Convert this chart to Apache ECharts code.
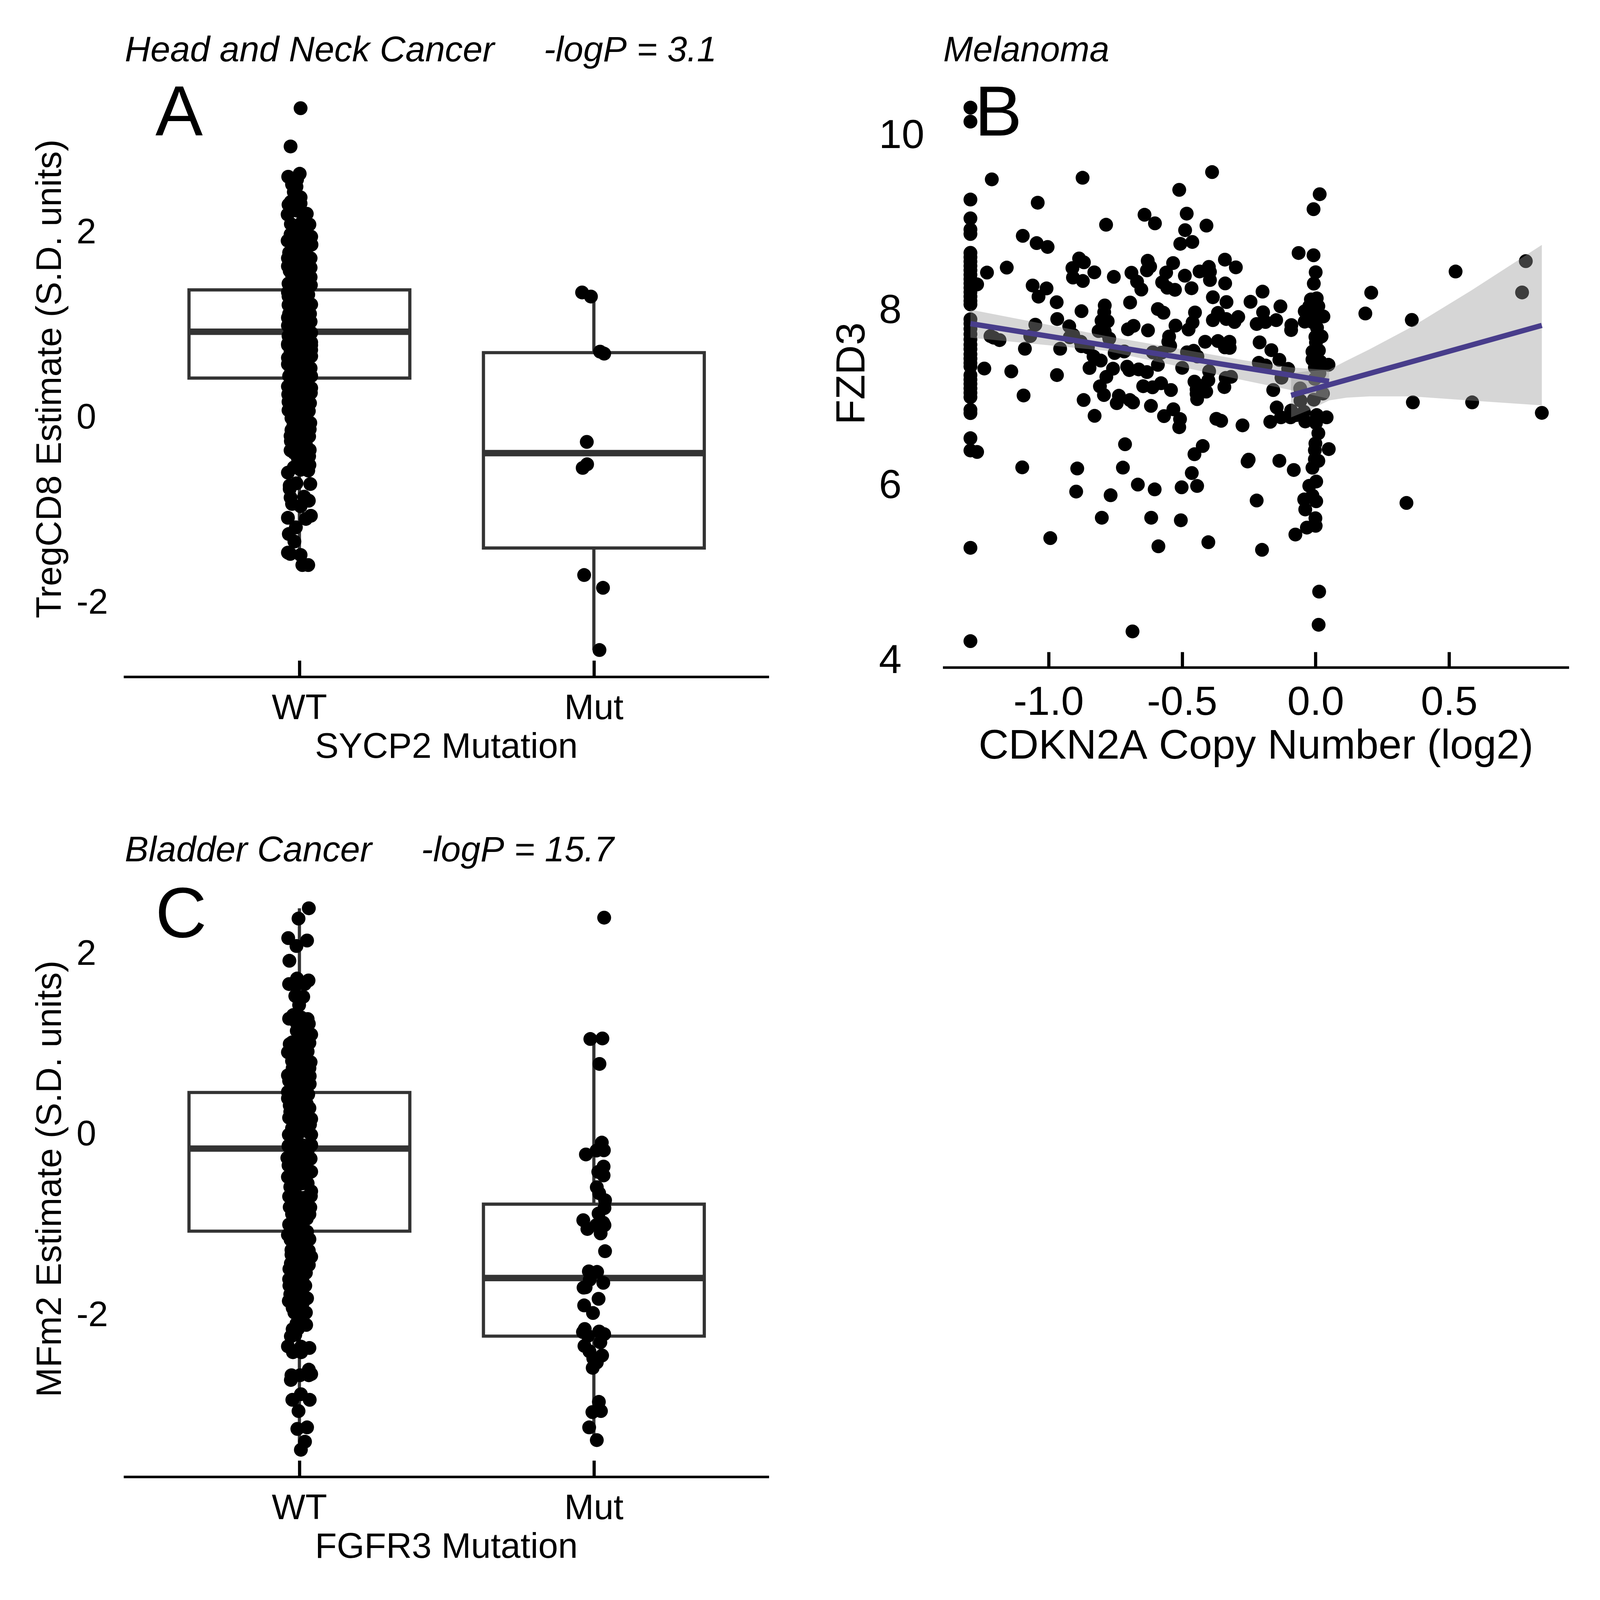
<!DOCTYPE html>
<html><head><meta charset="utf-8">
<style>html,body{margin:0;padding:0;background:#fff;overflow:hidden}#c{width:100vw;height:100vh}</style>
<script src="https://cdn.jsdelivr.net/npm/echarts@6/dist/echarts.min.js"></script>
</head><body><div id="c"></div>
<script>
const groupTicks = [1, 2];
const groupLabels = ['WT', 'Mut'];
const yTicksA = [-2, 0, 2];
const yTicksB = [4, 6, 8, 10];
const xTicksB = [-1, -0.5, 0, 0.5];
const yTicksC = [-2, 0, 2];

// [position, lower whisker, q1, median, q3, upper whisker]
const boxesA = [[1, -1.61, 0.408, 0.909, 1.361, 2.6], [2, -2.529, -1.427, -0.402, 0.683, 1.29]];
const boxesC = [[1, -3.5, -1.089, -0.175, 0.446, 2.485], [2, -3.40, -2.251, -1.608, -0.79, 1.044]];

const pointsAWt = [[1.004,3.323],[.970,2.910],[1.001,2.615],[.962,2.583],[.992,2.552],[.975,2.50],[.990,2.475],[.981,2.418],[1.004,2.36],[.971,2.312],[.963,2.281],[1.004,2.295],[.960,2.175],[1.025,2.183],[.99,2.218],[.971,2.072],[1.034,2.067],[1.01,2.098],[.970,1.96],[1.04,1.935],[.960,1.892],[1.041,1.849],[1.006,1.943],[.988,1.858],[.965,1.763],[1.038,1.703],[.961,1.703],[1.01,1.738],[.961,1.617],[1.038,1.601],[.967,1.566],[.99,1.617],[1.038,1.498],[1.014,1.532],[.963,1.429],[1.039,1.412],[.961,1.335],[.99,1.429],[1.014,1.36],[.963,1.292],[1.04,1.203],[.963,1.198],[1.036,1.103],[.965,1.103],[.961,1.06],[1.038,1.018],[.961,.975],[.99,1.223],[1.01,1.086],[1.04,.898],[.963,.863],[1.04,.795],[.961,.778],
[.961,.764],[1.04,.764],[1.04,.712],[.961,.627],[1.04,.644],[.961,.558],[1.038,.515],[.965,.43],[1.04,.43],[.961,.318],[1.04,.301],[.962,.232],[1.039,.249],[.963,.152],[1.036,.138],[.963,.061],[1.032,.052],[.973,-.025],[1.037,-.076],[.973,-.153],[1.035,-.145],[.970,-.217],[1.033,-.222],[.971,-.273],[.970,-.373],[1.035,-.368],[1.033,-.436],[1.01,-.273],[1.016,-.359],[1.034,-.53],[1.03,-.59],[1.004,-.582],[.981,-.556],[.961,-.613],[.967,-.753],[.990,-.728],[1.037,-.736],[.967,-.788],[.970,-.882],[1.016,-.873],[1.032,-.916],[.975,-.951],[1.004,-.976],[.961,-1.101],[1.022,-1.113],[1.039,-1.079],[.988,-1.204],[.964,-1.276],[.983,-1.357],[.961,-1.477],[.969,-1.491],[1.004,-1.502],[1.01,-1.611],[1.03,-1.611],
[.985,2.02],[1.015,1.98],[.99,1.9],[1.02,1.85],[.98,1.8],[1.005,1.76],[.985,1.68],[1.02,1.66],[.99,1.58],[1.015,1.55],[.985,1.47],[1.01,1.44],[1.025,1.38],[.98,1.36],[1.0,1.31],[1.02,1.26],[.985,1.24],[1.005,1.17],[.98,1.13],[1.025,1.12],[.995,1.05],[1.015,1.02],[.98,.98],[1.0,.93],[1.025,.9],[.985,.85],[1.01,.81],[.98,.73],[1.02,.7],[.995,.66],[1.01,.6],[.98,.56],[1.025,.53],[.995,.48],[1.015,.42],[.98,.38],[1.0,.33],[1.025,.3],[.985,.25],[1.01,.2],[.98,.13],[1.02,.1],[.995,.05],[1.015,-.02],[.985,-.06],[1.005,-.12],[.99,-.2],[1.015,-.25],[.995,-.32],[1.01,-.4],
[.975,1.94],[1.025,1.72],[.975,1.52],[1.028,1.47],[.972,1.27],[1.03,1.31],[.97,1.17],[1.03,1.05],[.972,.92],[1.032,.84],[.97,.69],[1.03,.62],[.972,.48],[1.032,.47],[.97,.36],[1.03,.2],[.972,.2],[1.028,.16],[.975,.03],[1.025,-.03],[.98,-.1],[1.025,-.18],[.985,-.27],[1.022,-.31],[.982,-.4],[.995,-.46],[1.0,.75],[1.0,1.12],[1.0,1.5],[1.0,.15],[1.005,.42],[.99,.95],[1.01,1.3],[.99,.28],[1.01,.5],[1.0,-.05]];
const pointsAMut = [[1.960,1.333],[1.990,1.289],[2.021,.694],[2.035,.672],[1.976,-.281],[1.977,-.523],[1.962,-.562],[1.967,-1.719],[2.031,-1.857],[2.019,-2.529]];

const pointsCWt = [[1.032,2.485],[.997,2.371],[.962,2.155],[1.026,2.128],[.990,2.067],[.966,1.904],[.992,1.707],[1.031,1.686],[.965,1.646],[1.018,1.646],[.986,1.628],[.998,1.663],[.986,1.514],[1.013,1.505],[.999,1.414],[.979,1.303],[.965,1.263],[1.006,1.277],[1.028,1.259],[1.032,1.207],[.991,1.128],[1.040,1.087],[1.014,1.119],[1.034,.995],[.967,.982],[.961,.891],[.99,1.014],[1.018,.978],[1.022,.856],[.99,.891],[.975,.794],[1.038,.782],[1.006,.785],[1.034,.715],[.977,.715],[.961,.636],[1.035,.627],[.965,.575],[1.035,.54],[1.002,.645],[.961,.452],[1.03,.425],[.961,.381],[.998,.469],[.967,.303],[1.034,.273],[.969,.232],[.965,.167],[1.04,.153],[1.036,.092],[1.006,.223],[1.006,.083],[.964,-.022],[1.04,-.022],[.963,-.145],[1.04,-.136],[.99,-.057],
[.963,-.147],[1.04,-.138],[.959,-.278],[1.038,-.287],[.963,-.361],[1.04,-.431],[.961,-.489],[.969,-.6],[1.04,-.647],[.965,-.705],[1.039,-.7],[.967,-.823],[1.037,-.826],[1.034,-.902],[.965,-1.016],[1.026,-1.095],[.961,-1.13],[1.034,-1.179],[.97,-1.183],[.973,-1.297],[1.032,-1.305],[1.04,-1.372],[.973,-1.349],[1.032,-1.463],[.971,-1.446],[.966,-1.507],[1.01,-1.534],[.965,-1.621],[1.02,-1.692],[.966,-1.692],[.969,-1.788],[1.026,-1.832],[.964,-1.862],[1.002,-1.727],[.977,-1.938],[.983,-1.99],[1.022,-1.99],[.99,-2.113],[1.023,-2.127],[.977,-2.175],[.986,-2.236],[.971,-2.253],[.961,-2.364],[.978,-2.429],[1.006,-2.368],[1.006,-2.429],[1.034,-2.382],[1.032,-2.622],[1.04,-2.671],[1.032,-2.684],[1.002,-2.684],[.973,-2.684],[.971,-2.736],
[1.035,-2.669],[.976,-2.956],[1.005,-2.894],[1.035,-2.956],[.997,-3.08],[.993,-3.278],[1.026,-3.261],[1.019,-3.419],[1.005,-3.509],
[.99,1.22],[1.01,1.05],[.985,.95],[1.005,.93],[.99,.8],[1.015,.72],[.985,.66],[1.01,.58],[.98,.52],[1.015,.48],[.99,.37],[1.01,.33],[.985,.27],[1.015,.17],[.99,.1],[1.01,.02],[.985,-.1],[1.012,-.14],[.98,-.22],[1.01,-.27],[.985,-.38],[1.015,-.41],[.99,-.5],[1.01,-.56],[.985,-.66],[1.015,-.72],[.99,-.8],[1.01,-.87],[.985,-.93],[1.012,-1.0],[.99,-1.08],[1.005,-1.17],[.985,-1.25],[1.01,-1.32],[.99,-1.42],[1.005,-1.47],[.985,-1.56],[1.01,-1.62],[.99,-1.7],[1.01,-1.78],[.985,-1.85],[1.005,-1.93],
[.975,1.0],[1.028,.9],[.975,.6],[1.025,.6],[.975,.42],[1.025,.32],[.975,.25],[1.03,.03],[.975,.05],[1.028,-.2],[.975,-.32],[1.028,-.42],[.975,-.55],[1.028,-.56],[.975,-.76],[1.028,-.78],[.975,-.9],[1.025,-.95],[.975,-1.05],[1.018,-1.15],[.98,-1.14],[1.02,-1.24],[.985,-1.35],[1.02,-1.4],[.98,-1.5],[1.022,-1.55],[.98,-1.64],[1.005,-1.62],[.982,-1.74],[1.012,-1.88],[.99,-1.92],[1.0,-2.03],[1.012,-2.08],[.995,-2.17],[1.0,.7],[1.0,.4],[1.0,.15],[1.0,-.2],[1.0,-.45],[1.0,-.75],[1.0,-1.05],[1.0,-1.3],[1.0,-1.55]];
const pointsCMut = [[2.035,2.381],[1.988,1.038],[2.029,1.044],[2.019,.762],[2.027,-.109],[2.034,-.194],[2.009,-.197],[1.973,-.24],[2.033,-.374],[2.015,-.433],[2.033,-.472],[2.010,-.603],[2.018,-.669],[2.038,-.747],[2.036,-.833],[2.016,-.894],[1.964,-.968],[2.032,-.996],[2.036,-1.023],[2.008,-1.023],[1.978,-1.065],[2.023,-1.114],[2.038,-1.311],[1.983,-1.534],[2.011,-1.54],[1.986,-1.626],[2.032,-1.661],[1.965,-1.714],[1.972,-1.711],[2.016,-1.838],[1.967,-1.911],[1.997,-1.995],[1.969,-2.172],[1.963,-2.206],[1.980,-2.248],[2.018,-2.2],[2.035,-2.229],[2.022,-2.32],[1.968,-2.36],[1.985,-2.419],[2.028,-2.465],[1.998,-2.497],[2.010,-2.543],[1.996,-2.602],[2.017,-2.979],[2.024,-3.08],[1.995,-3.092],[1.984,-3.261],[2.010,-3.402]];

const pointsB = [[-1.293,10.31],[-1.293,10.15],[-1.293,9.259],[-1.293,9.044],[-1.293,8.917],[-1.293,8.865],[-1.293,8.65],[-1.293,8.60],[-1.293,8.55],[-1.293,8.50],[-1.293,8.45],[-1.293,8.40],[-1.293,8.35],[-1.293,8.30],[-1.293,8.25],[-1.293,8.20],[-1.293,8.15],[-1.293,8.10],[-1.293,8.06],[-1.293,7.89],[-1.293,7.84],[-1.293,7.78],[-1.293,7.72],[-1.293,7.66],[-1.293,7.60],[-1.293,7.55],[-1.293,7.49],[-1.293,7.44],[-1.293,7.39],[-1.293,7.35],[-1.293,7.25],[-1.293,7.2],[-1.293,7.15],[-1.293,7.1],[-1.293,7.05],[-1.293,7.0],[-1.293,6.855],[-1.293,6.817],[-1.293,6.53],[-1.293,6.39],[-1.268,6.373],[-1.293,5.277],[-1.293,4.21],
[-1.213,9.49],[-.873,9.508],[-.388,9.573],[-.511,9.37],[-1.041,9.223],[-.641,9.085],[-.602,8.987],[-.483,9.098],[-.785,8.971],[-.489,8.909],[-.409,8.961],[-1.097,8.844],[-1.045,8.761],[-1.004,8.717],[-.507,8.753],[-.462,8.774],[-.886,8.585],[-.868,8.541],[-.911,8.476],[-.909,8.367],[-.872,8.328],[-.829,8.427],[-.756,8.375],[-.690,8.422],[-.669,8.32],[-.653,8.23],[-.629,8.559],[-.620,8.492],[-.632,8.45],[-.534,8.533],[-.560,8.424],[-.575,8.313],[-.556,8.251],[-.527,8.227],[-.490,8.388],[-.465,8.245],[-.435,8.437],[-.400,8.489],[-.396,8.432],[-.396,8.339],[-.340,8.572],[-.299,8.484],[-.339,8.30],[-.385,8.142],[-.334,8.087],[-1.231,8.424],[-1.157,8.481],[-1.268,8.289],[-1.060,8.276],[-1.008,8.243],[-1.038,8.149],[-.970,8.085],[-.968,7.893],[-.877,7.983],[-.790,8.048],[-.792,7.971],[-.802,7.874],[-.779,7.867],[-.813,7.755],[-.790,7.75],[-.773,7.67],[-.695,8.082],[-.591,8.007],[-.570,7.965],[-.703,7.776],[-.682,7.815],[-.628,7.763],[-.525,7.818],[-.452,7.968],[-.461,7.854],[-.476,7.773],[-.549,7.693],[-.552,7.633],[-.545,7.587],[-.366,7.963],[-.385,7.88],[-.335,7.893],[-.304,7.859],[-.290,7.916],[-.244,8.09],[-.199,8.206],[-.197,7.97],[-.221,7.836],[-.188,7.859],[-.148,7.88],[-.132,8.038],[-.414,7.633],[-.366,7.641],[-.323,7.633],[-.340,7.569],[-.322,7.563],[-.210,7.626],[-.166,7.537],[-.136,7.426],[-1.050,7.828],[-1.218,7.698],[-1.206,7.68],[-1.184,7.652],[-1.069,7.698],[-1.089,7.553],[-.957,7.553],[-.923,7.81],[-.921,7.685],[-.908,7.711],[-.880,7.633],[-.877,7.582],[-.853,7.569],[-.832,7.465],[-.805,7.418],[-.847,7.333],[-.753,7.504],[-.717,7.522],[-.610,7.512],[-.577,7.509],[-.482,7.512],[-.457,7.53],[-.443,7.465],[-.591,7.369],[-.500,7.335],[-.759,7.325],[-.706,7.348],[-.698,7.309],[-.663,7.317],[-.632,7.286],[-.784,7.232],[-.808,7.123],[-.793,7.024],[-.579,7.159],[-.646,7.125],[-.611,7.112],[-.542,7.081],[-.737,7.016],[-.745,6.931],[-.696,6.967],[-.684,6.939],[-.617,6.9],[-.869,6.967],[-.828,6.786],[-.533,6.861],[-.568,6.783],[-.508,6.749],[-.511,6.656],[-.399,7.296],[-.402,7.193],[-.454,7.177],[-.446,7.089],[-.410,7.063],[-.446,7.037],[-.444,6.977],[-.424,7.128],[-.337,7.219],[-.317,7.232],[-.342,7.115],[-.213,7.392],[-.187,7.361],[-.159,7.081],[-.146,6.882],[-.372,6.752],[-.354,6.729],[-.274,6.677],[-.170,6.718],[-.714,6.461],[-.423,6.441],[-.454,6.347],[-1.099,6.197],[-.251,6.285],[-.255,6.264],[-.136,6.272],[-.893,6.184],[-.722,6.194],[-.464,6.132],[-.666,6.0],[-.603,5.945],[-.502,5.969],[-.444,5.984],[-.897,5.92],[-.768,5.878],[-.221,5.818],[-.969,7.252],[-1.094,7.019],[-1.140,7.294],[-1.241,7.327],
[-.994,5.388],[-.801,5.621],[-.616,5.621],[-.505,5.592],[-.589,5.294],[-.402,5.341],[-.201,5.254],[-.686,4.321],[-.076,5.429],[.013,4.776],[.011,4.397],[.340,5.79],
[-.064,8.648],[-.008,8.622],[0,8.428],[-.007,8.298],[-.091,7.824],[-.092,7.767],[-.103,7.323],[-.128,7.222],[-.092,6.846],[-.130,6.769],[-.094,6.769],[-.073,6.795],[-.044,6.833],[-.039,6.722],[.041,6.769],[.049,6.406],[-.082,6.167],[.208,8.194],[.186,7.956],[.360,7.883],[.524,8.436],[.787,8.555],[.773,8.197],[.364,6.94],[.586,6.94],[.847,6.82],
[.015,9.32],[-.008,9.149],[.004,8.13],[-.018,8.117],[.010,8.039],[-.024,8.039],[-.041,7.982],[-.003,7.987],[.029,7.922],[-.016,7.935],[-.041,7.863],[-.012,7.858],[.005,7.793],[-.001,7.689],[.022,7.694],[.001,7.624],[-.012,7.52],[.012,7.533],[-.012,7.43],[.018,7.404],[.048,7.37],[-.003,7.339],[.014,7.274],[-.003,7.209],[-.058,7.100],[.027,7.041],[-.007,6.971],[-.057,6.96],[.004,6.795],[.001,6.704],[.010,6.587],[-.001,6.47],[-.003,6.393],[-.003,6.289],[.010,6.271],[-.012,6.193],[.002,6.035],[-.024,5.986],[-.012,5.874],[-.043,5.83],[.002,5.809],[-.039,5.716],[-.001,5.615],[0,5.529],[-.033,5.508]];

const fitLeft = [[-1.293, 7.84], [0.05, 7.18]];
const fitRight = [[-0.092, 7.02], [0.847, 7.82]];
// [x, lower, upper]
const bandLeft = [[-1.293,7.68,8.0],[-.786,7.53,7.70],[-.266,7.19,7.42],[-.092,7.08,7.34],[.05,6.98,7.31]];
const bandRight = [[-.092,6.768,7.274],[-.02,6.858,7.30],[.05,6.963,7.313],[.116,6.994,7.417],[.201,7.008,7.546],[.36,7.008,7.804],[.583,6.96,8.22],[.847,6.906,8.74]];

const FONT = '"Liberation Sans", Arial, sans-serif';
const INK = '#000000', BOX = '#333333', RIBBON = 'rgba(153,153,153,0.4)', FIT = '#483D8B';
// The layout is measured on a 4500-pixel square; every measure is scaled to the window actually opened.
const k = Math.min(window.innerWidth, window.innerHeight) / 4500;
const u = v => v * k;

function boxSeries(rows, idx) {
  return { type: 'custom', xAxisIndex: idx, yAxisIndex: idx, z: 2, silent: true, data: rows,
    encode: { x: 0, y: [1, 2, 3, 4, 5] },
    renderItem(params, api) {
      const p = api.value(0), low = api.value(1), q1 = api.value(2), med = api.value(3), q3 = api.value(4), high = api.value(5);
      const lt = api.coord([p - 0.375, q3]), rb = api.coord([p + 0.375, q1]);
      const m1 = api.coord([p - 0.375, med]), m2 = api.coord([p + 0.375, med]);
      const w1 = api.coord([p, high]), w2 = api.coord([p, q3]), w3 = api.coord([p, q1]), w4 = api.coord([p, low]);
      const thin = { stroke: BOX, lineWidth: u(9), fill: null };
      return { type: 'group', children: [
        { type: 'line', shape: { x1: w1[0], y1: w1[1], x2: w2[0], y2: w2[1] }, style: thin },
        { type: 'line', shape: { x1: w3[0], y1: w3[1], x2: w4[0], y2: w4[1] }, style: thin },
        { type: 'rect', shape: { x: lt[0], y: lt[1], width: rb[0] - lt[0], height: rb[1] - lt[1] }, style: thin },
        { type: 'line', shape: { x1: m1[0], y1: m1[1], x2: m2[0], y2: m2[1] }, style: { stroke: BOX, lineWidth: u(18) } }
      ] };
    } };
}
function dots(rows, idx) {
  return { type: 'scatter', xAxisIndex: idx, yAxisIndex: idx, z: 3, silent: true, symbolSize: u(39), data: rows,
    itemStyle: { color: INK, opacity: 1 } };
}
function band(rows, idx) {
  return { type: 'custom', xAxisIndex: idx, yAxisIndex: idx, z: 4, silent: true, data: rows,
    encode: { x: 0, y: [1, 2] },
    renderItem(params, api) {
      if (params.dataIndex !== 0) return null;
      const up = rows.map(r => api.coord([r[0], r[2]]));
      const lo = rows.map(r => api.coord([r[0], r[1]])).reverse();
      return { type: 'polygon', shape: { points: up.concat(lo) }, style: { fill: RIBBON } };
    } };
}
function fit(rows, idx) {
  return { type: 'line', xAxisIndex: idx, yAxisIndex: idx, z: 5, silent: true, data: rows, symbol: 'none',
    lineStyle: { color: FIT, width: u(15), cap: 'butt' } };
}
function groupAxis(name, idx) {
  return { gridIndex: idx, type: 'value', min: 0.4034, max: 2.595, name, nameLocation: 'middle', nameGap: u(150),
    nameTextStyle: { fontFamily: FONT, fontSize: u(100), color: INK },
    splitLine: { show: false },
    axisLine: { show: true, onZero: false, lineStyle: { color: INK, width: u(7), cap: 'butt' } },
    axisTick: { show: true, inside: true, length: u(46), customValues: groupTicks, lineStyle: { color: INK, width: u(9), cap: 'butt' } },
    axisLabel: { customValues: groupTicks, margin: u(41), fontFamily: FONT, fontSize: u(100), color: INK,
      formatter: v => groupLabels[Math.round(v) - 1] } };
}
function valueAxis(name, min, max, ticks, idx, size, margin, gap, nudge) {
  return { gridIndex: idx, type: 'value', min, max, name, nameLocation: 'middle', nameGap: u(gap), nameRotate: 90,
    nameTextStyle: { fontFamily: FONT, fontSize: u(size), color: INK },
    splitLine: { show: false }, axisLine: { show: false }, axisTick: { show: false },
    axisLabel: { customValues: ticks, margin: u(margin), align: 'left', color: INK,
      rich: { t: { fontFamily: FONT, fontSize: u(size), color: INK, padding: [u(nudge), 0, 0, 0] } },
      formatter: v => '{t|' + v + '}' } };
}
function caption(text, left, top) {
  return { text, left: u(left), top: u(top), padding: 0, textStyle: { fontFamily: FONT, fontSize: u(100), fontStyle: 'italic', fontWeight: 'normal', color: INK } };
}
function letter(text, left, top) {
  return { text, left: u(left), top: u(top), padding: 0, textStyle: { fontFamily: FONT, fontSize: u(200), fontWeight: 'normal', color: INK } };
}

const chart = echarts.init(document.getElementById('c'), null, { renderer: 'canvas' });
chart.setOption({
  animation: false,
  backgroundColor: '#ffffff',
  title: [
    caption('Head and Neck Cancer     -logP = 3.1', 351, 95),
    caption('Melanoma', 2653, 95),
    caption('Bladder Cancer     -logP = 15.7', 351, 2345),
    letter('A', 437, 226), letter('B', 2741, 226), letter('C', 437, 2481)
  ],
  grid: [
    { left: u(348), width: u(1815), top: u(227), height: u(1677) },
    { left: u(2652), width: u(1761), top: u(224), height: u(1653) },
    { left: u(348), width: u(1815), top: u(2477), height: u(1677) }
  ],
  xAxis: [
    groupAxis('SYCP2 Mutation', 0),
    { gridIndex: 1, type: 'value', min: -1.396, max: 0.949, name: 'CDKN2A Copy Number (log2)', nameLocation: 'middle', nameGap: u(166),
      nameTextStyle: { fontFamily: FONT, fontSize: u(117), color: INK }, splitLine: { show: false },
      axisLine: { show: true, onZero: false, lineStyle: { color: INK, width: u(7), cap: 'butt' } },
      axisTick: { show: true, inside: true, length: u(43), customValues: xTicksB, lineStyle: { color: INK, width: u(9), cap: 'butt' } },
      axisLabel: { customValues: xTicksB, margin: u(44), fontFamily: FONT, fontSize: u(115), color: INK, formatter: v => v.toFixed(1) } },
    groupAxis('FGFR3 Mutation', 2)
  ],
  yAxis: [
    valueAxis('TregCD8 Estimate (S.D. units)', -2.82, 3.62, yTicksA, 0, 100, 133, 154, 16),
    valueAxis('FZD3', 3.91, 10.63, yTicksB, 1, 115, 180, 195, 12),
    valueAxis('MFm2 Estimate (S.D. units)', -3.81, 2.79, yTicksC, 2, 100, 133, 154, 16)
  ],
  series: [
    boxSeries(boxesA, 0), dots(pointsAWt, 0), dots(pointsAMut, 0),
    dots(pointsB, 1), band(bandLeft, 1), band(bandRight, 1), fit(fitLeft, 1), fit(fitRight, 1),
    boxSeries(boxesC, 2), dots(pointsCWt, 2), dots(pointsCMut, 2)
  ]
});
</script></body></html>
